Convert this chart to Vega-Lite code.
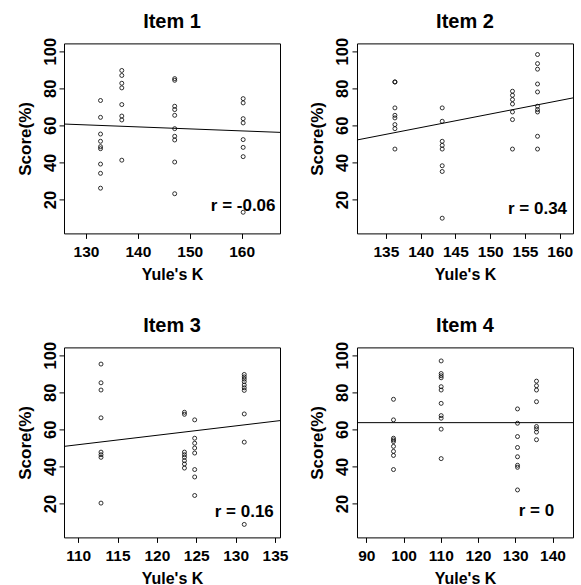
{
 "$schema": "https://vega.github.io/schema/vega-lite/v6.json",
 "background": "white",
 "padding": {"left": 15, "top": 10.4, "right": 5, "bottom": 5},
 "datasets": {
  "pts": [
   {"item":1,"K":132.8,"score":73.4},{"item":1,"K":132.8,"score":64.3},{"item":1,"K":132.8,"score":55.3},{"item":1,"K":132.8,"score":51.4},{"item":1,"K":132.8,"score":48.5},{"item":1,"K":132.8,"score":47.4},{"item":1,"K":132.8,"score":39.1},{"item":1,"K":132.8,"score":34.1},{"item":1,"K":132.8,"score":26.1},
   {"item":1,"K":136.9,"score":89.6},{"item":1,"K":136.9,"score":86.9},{"item":1,"K":136.9,"score":82.7},{"item":1,"K":136.9,"score":80.2},{"item":1,"K":136.9,"score":71.2},{"item":1,"K":136.9,"score":65.0},{"item":1,"K":136.9,"score":62.9},{"item":1,"K":136.9,"score":41.2},
   {"item":1,"K":147.1,"score":85.2},{"item":1,"K":147.1,"score":84.3},{"item":1,"K":147.1,"score":70.3},{"item":1,"K":147.1,"score":68.5},{"item":1,"K":147.1,"score":65.4},{"item":1,"K":147.1,"score":58.2},{"item":1,"K":147.1,"score":54.1},{"item":1,"K":147.1,"score":52.1},{"item":1,"K":147.1,"score":40.2},{"item":1,"K":147.1,"score":23.1},
   {"item":1,"K":160.3,"score":74.4},{"item":1,"K":160.3,"score":72.1},{"item":1,"K":160.3,"score":63.6},{"item":1,"K":160.3,"score":61.3},{"item":1,"K":160.3,"score":52.3},{"item":1,"K":160.3,"score":48.1},{"item":1,"K":160.3,"score":43.1},{"item":1,"K":160.3,"score":13.1},
   {"item":2,"K":136.3,"score":83.4},{"item":2,"K":136.3,"score":83.4},{"item":2,"K":136.3,"score":69.4},{"item":2,"K":136.3,"score":65.4},{"item":2,"K":136.3,"score":64.0},{"item":2,"K":136.3,"score":60.4},{"item":2,"K":136.3,"score":58.2},{"item":2,"K":136.3,"score":47.2},
   {"item":2,"K":143.1,"score":69.4},{"item":2,"K":143.1,"score":62.2},{"item":2,"K":143.1,"score":51.4},{"item":2,"K":143.1,"score":49.2},{"item":2,"K":143.1,"score":47.2},{"item":2,"K":143.1,"score":38.2},{"item":2,"K":143.1,"score":35.1},{"item":2,"K":143.1,"score":9.9},
   {"item":2,"K":153.2,"score":78.4},{"item":2,"K":153.2,"score":76.2},{"item":2,"K":153.2,"score":73.9},{"item":2,"K":153.2,"score":71.5},{"item":2,"K":153.2,"score":67.2},{"item":2,"K":153.2,"score":63.1},{"item":2,"K":153.2,"score":47.2},
   {"item":2,"K":156.8,"score":98.2},{"item":2,"K":156.8,"score":93.3},{"item":2,"K":156.8,"score":90.3},{"item":2,"K":156.8,"score":82.3},{"item":2,"K":156.8,"score":78.0},{"item":2,"K":156.8,"score":70.3},{"item":2,"K":156.8,"score":68.5},{"item":2,"K":156.8,"score":67.2},{"item":2,"K":156.8,"score":54.1},{"item":2,"K":156.8,"score":47.2},
   {"item":3,"K":112.9,"score":95.2},{"item":3,"K":112.9,"score":85.1},{"item":3,"K":112.9,"score":81.2},{"item":3,"K":112.9,"score":66.2},{"item":3,"K":112.9,"score":47.7},{"item":3,"K":112.9,"score":46.3},{"item":3,"K":112.9,"score":44.9},{"item":3,"K":112.9,"score":20.2},
   {"item":3,"K":123.5,"score":69.2},{"item":3,"K":123.5,"score":68.1},{"item":3,"K":123.5,"score":47.7},{"item":3,"K":123.5,"score":46.3},{"item":3,"K":123.5,"score":44.9},{"item":3,"K":123.5,"score":43.1},{"item":3,"K":123.5,"score":41.3},{"item":3,"K":123.5,"score":39.1},
   {"item":3,"K":124.8,"score":65.1},{"item":3,"K":124.8,"score":55.2},{"item":3,"K":124.8,"score":52.5},{"item":3,"K":124.8,"score":49.9},{"item":3,"K":124.8,"score":47.2},{"item":3,"K":124.8,"score":38.3},{"item":3,"K":124.8,"score":34.3},{"item":3,"K":124.8,"score":24.3},
   {"item":3,"K":131.1,"score":89.6},{"item":3,"K":131.1,"score":88.3},{"item":3,"K":131.1,"score":87.1},{"item":3,"K":131.1,"score":85.7},{"item":3,"K":131.1,"score":83.9},{"item":3,"K":131.1,"score":82.4},{"item":3,"K":131.1,"score":81.0},{"item":3,"K":131.1,"score":68.3},{"item":3,"K":131.1,"score":53.1},{"item":3,"K":131.1,"score":8.7},
   {"item":4,"K":97.3,"score":76.2},{"item":4,"K":97.3,"score":65.1},{"item":4,"K":97.3,"score":55.2},{"item":4,"K":97.3,"score":54.3},{"item":4,"K":97.3,"score":53.4},{"item":4,"K":97.3,"score":50.8},{"item":4,"K":97.3,"score":48.1},{"item":4,"K":97.3,"score":45.9},{"item":4,"K":97.3,"score":38.3},
   {"item":4,"K":110.1,"score":96.9},{"item":4,"K":110.1,"score":90.1},{"item":4,"K":110.1,"score":88.9},{"item":4,"K":110.1,"score":87.8},{"item":4,"K":110.1,"score":83.0},{"item":4,"K":110.1,"score":81.2},{"item":4,"K":110.1,"score":74.0},{"item":4,"K":110.1,"score":67.4},{"item":4,"K":110.1,"score":66.0},{"item":4,"K":110.1,"score":60.1},{"item":4,"K":110.1,"score":44.2},
   {"item":4,"K":130.6,"score":71.0},{"item":4,"K":130.6,"score":63.3},{"item":4,"K":130.6,"score":56.1},{"item":4,"K":130.6,"score":50.2},{"item":4,"K":130.6,"score":45.2},{"item":4,"K":130.6,"score":40.6},{"item":4,"K":130.6,"score":39.5},{"item":4,"K":130.6,"score":27.3},
   {"item":4,"K":135.7,"score":86.0},{"item":4,"K":135.7,"score":83.5},{"item":4,"K":135.7,"score":81.2},{"item":4,"K":135.7,"score":74.9},{"item":4,"K":135.7,"score":61.5},{"item":4,"K":135.7,"score":60.3},{"item":4,"K":135.7,"score":58.5},{"item":4,"K":135.7,"score":54.4}
  ],
  "fits": [
   {"item":1,"K":125.76,"score":60.7},{"item":1,"K":167.4,"score":56.2},
   {"item":2,"K":130.85,"score":52.1},{"item":2,"K":161.9,"score":74.8},
   {"item":3,"K":108.2,"score":50.8},{"item":3,"K":135.64,"score":64.7},
   {"item":4,"K":87.5,"score":63.6},{"item":4,"K":145.5,"score":63.6}
  ]
 },
 "config": {
  "view": {"stroke": "black", "strokeWidth": 1},
  "font": "Liberation Sans",
  "axis": {"domain": false, "grid": false, "ticks": true, "tickColor": "black", "tickSize": 5, "tickWidth": 1, "labelColor": "black", "labelFont": "Liberation Sans", "labelFontSize": 15.5, "labelFontWeight": "bold", "labelOverlap": false, "labelFlush": false, "titleColor": "black", "titleFont": "Liberation Sans", "titleFontSize": 16, "titleFontWeight": "bold"},
  "axisX": {"labelPadding": 6.5, "titlePadding": 6},
  "axisY": {"labelAngle": -90, "labelAlign": "center", "labelBaseline": "alphabetic", "labelPadding": 4, "labelFontSize": 16.5, "titleFontSize": 17, "titleBaseline": "alphabetic", "titlePadding": 12},
  "title": {"font": "Liberation Sans", "fontSize": 20, "fontWeight": "bold", "color": "black", "frame": "group", "anchor": "middle", "baseline": "alphabetic", "offset": 5.8}
 },
 "columns": 2,
 "spacing": {"row": 114, "column": 77},
 "bounds": "flush",
 "concat": [
  {
   "width": 216, "height": 190,
   "title": {"text": "Item 1"},
   "layer": [
    {"data": {"name": "pts"}, "transform": [{"filter": "datum.item == 1"}],
     "mark": {"type": "point", "shape": "circle", "filled": false, "size": 16, "strokeWidth": 0.8, "color": "black", "opacity": 1},
     "encoding": {
      "x": {"field": "K", "type": "quantitative", "scale": {"domain": [125.76, 167.4], "nice": false, "zero": false}, "axis": {"values": [130,140,150,160]}, "title": "Yule's K"},
      "y": {"field": "score", "type": "quantitative", "scale": {"domain": [1.7, 104.2], "nice": false, "zero": false}, "axis": {"values": [20,40,60,80,100]}, "title": "Score(%)"}
     }},
    {"data": {"name": "fits"}, "transform": [{"filter": "datum.item == 1"}],
     "mark": {"type": "line", "color": "black", "strokeWidth": 1},
     "encoding": {"x": {"field": "K", "type": "quantitative", "title": "Yule's K"}, "y": {"field": "score", "type": "quantitative", "title": "Score(%)"}}},
    {"data": {"name": "pts"}, "transform": [{"filter": "datum.item == 1"}],
     "mark": {"type": "text", "align": "center", "baseline": "alphabetic", "font": "Liberation Sans", "fontSize": 17, "fontWeight": "bold", "color": "black"},
     "encoding": {"x": {"aggregate": "max", "field": "K", "type": "quantitative", "title": "Yule's K"}, "y": {"datum": 13.9, "type": "quantitative", "title": "Score(%)"}, "text": {"value": "r = -0.06"}}}
   ]
  },
  {
   "width": 216, "height": 190,
   "title": {"text": "Item 2"},
   "layer": [
    {"data": {"name": "pts"}, "transform": [{"filter": "datum.item == 2"}],
     "mark": {"type": "point", "shape": "circle", "filled": false, "size": 16, "strokeWidth": 0.8, "color": "black", "opacity": 1},
     "encoding": {
      "x": {"field": "K", "type": "quantitative", "scale": {"domain": [130.85, 161.9], "nice": false, "zero": false}, "axis": {"values": [135,140,145,150,155,160]}, "title": "Yule's K"},
      "y": {"field": "score", "type": "quantitative", "scale": {"domain": [1.7, 104.2], "nice": false, "zero": false}, "axis": {"values": [20,40,60,80,100]}, "title": "Score(%)"}
     }},
    {"data": {"name": "fits"}, "transform": [{"filter": "datum.item == 2"}],
     "mark": {"type": "line", "color": "black", "strokeWidth": 1},
     "encoding": {"x": {"field": "K", "type": "quantitative", "title": "Yule's K"}, "y": {"field": "score", "type": "quantitative", "title": "Score(%)"}}},
    {"data": {"name": "pts"}, "transform": [{"filter": "datum.item == 2"}],
     "mark": {"type": "text", "align": "center", "baseline": "alphabetic", "font": "Liberation Sans", "fontSize": 17, "fontWeight": "bold", "color": "black"},
     "encoding": {"x": {"aggregate": "max", "field": "K", "type": "quantitative", "title": "Yule's K"}, "y": {"datum": 12.05, "type": "quantitative", "title": "Score(%)"}, "text": {"value": "r = 0.34"}}}
   ]
  },
  {
   "width": 216, "height": 190,
   "title": {"text": "Item 3"},
   "layer": [
    {"data": {"name": "pts"}, "transform": [{"filter": "datum.item == 3"}],
     "mark": {"type": "point", "shape": "circle", "filled": false, "size": 16, "strokeWidth": 0.8, "color": "black", "opacity": 1},
     "encoding": {
      "x": {"field": "K", "type": "quantitative", "scale": {"domain": [108.2, 135.64], "nice": false, "zero": false}, "axis": {"values": [110,115,120,125,130,135]}, "title": "Yule's K"},
      "y": {"field": "score", "type": "quantitative", "scale": {"domain": [1.7, 104.2], "nice": false, "zero": false}, "axis": {"values": [20,40,60,80,100]}, "title": "Score(%)"}
     }},
    {"data": {"name": "fits"}, "transform": [{"filter": "datum.item == 3"}],
     "mark": {"type": "line", "color": "black", "strokeWidth": 1},
     "encoding": {"x": {"field": "K", "type": "quantitative", "title": "Yule's K"}, "y": {"field": "score", "type": "quantitative", "title": "Score(%)"}}},
    {"data": {"name": "pts"}, "transform": [{"filter": "datum.item == 3"}],
     "mark": {"type": "text", "align": "center", "baseline": "alphabetic", "font": "Liberation Sans", "fontSize": 17, "fontWeight": "bold", "color": "black"},
     "encoding": {"x": {"aggregate": "max", "field": "K", "type": "quantitative", "title": "Yule's K"}, "y": {"datum": 12.6, "type": "quantitative", "title": "Score(%)"}, "text": {"value": "r = 0.16"}}}
   ]
  },
  {
   "width": 216, "height": 190,
   "title": {"text": "Item 4"},
   "layer": [
    {"data": {"name": "pts"}, "transform": [{"filter": "datum.item == 4"}],
     "mark": {"type": "point", "shape": "circle", "filled": false, "size": 16, "strokeWidth": 0.8, "color": "black", "opacity": 1},
     "encoding": {
      "x": {"field": "K", "type": "quantitative", "scale": {"domain": [87.5, 145.5], "nice": false, "zero": false}, "axis": {"values": [90,100,110,120,130,140]}, "title": "Yule's K"},
      "y": {"field": "score", "type": "quantitative", "scale": {"domain": [1.7, 104.2], "nice": false, "zero": false}, "axis": {"values": [20,40,60,80,100]}, "title": "Score(%)"}
     }},
    {"data": {"name": "fits"}, "transform": [{"filter": "datum.item == 4"}],
     "mark": {"type": "line", "color": "black", "strokeWidth": 1},
     "encoding": {"x": {"field": "K", "type": "quantitative", "title": "Yule's K"}, "y": {"field": "score", "type": "quantitative", "title": "Score(%)"}}},
    {"data": {"name": "pts"}, "transform": [{"filter": "datum.item == 4"}],
     "mark": {"type": "text", "align": "center", "baseline": "alphabetic", "font": "Liberation Sans", "fontSize": 17, "fontWeight": "bold", "color": "black"},
     "encoding": {"x": {"aggregate": "max", "field": "K", "type": "quantitative", "title": "Yule's K"}, "y": {"datum": 13.2, "type": "quantitative", "title": "Score(%)"}, "text": {"value": "r = 0"}}}
   ]
  }
 ]
}
